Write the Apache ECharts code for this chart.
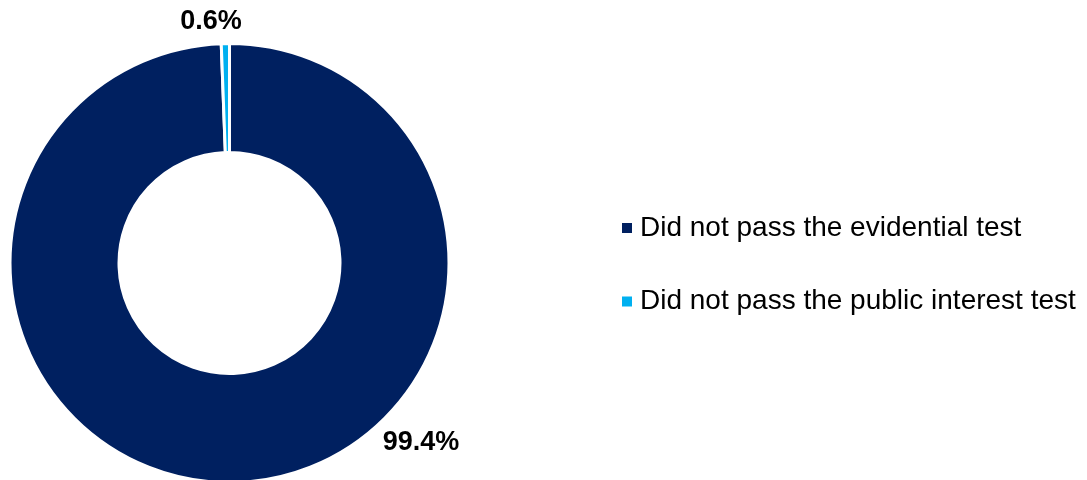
<!DOCTYPE html>
<html>
<head>
<meta charset="utf-8">
<script src="https://cdn.jsdelivr.net/npm/echarts@6/dist/echarts.min.js"></script>
<style>
html,body{margin:0;padding:0;background:#fff;}
#chart{width:1087px;height:480px;}
</style>
</head>
<body>
<div id="chart"></div>
<script>
const categories = ['Did not pass the evidential test', 'Did not pass the public interest test'];
const values = [99.4, 0.6];
const colors = ['#002060', '#00B0F0'];
const labelPositions = [[421, 443], [211, 22]];

const chart = echarts.init(document.getElementById('chart'), null, {renderer: 'canvas'});
const FONT = '"Liberation Sans", Arial, sans-serif';

chart.setOption({
  animation: false,
  backgroundColor: '#ffffff',
  legend: {
    orient: 'vertical',
    left: 622,
    top: 213.5,
    padding: 0,
    itemWidth: 10,
    itemHeight: 10,
    itemGap: 44.5,
    icon: 'rect',
    itemStyle: {borderWidth: 0},
    data: categories,
    textStyle: {
      fontFamily: FONT,
      fontSize: 28,
      lineHeight: 29,
      color: '#000000',
      padding: [0, 0, 0, 3]
    }
  },
  series: [{
    type: 'pie',
    center: [229.5, 263],
    radius: [110.5, 219.5],
    startAngle: 90,
    clockwise: true,
    avoidLabelOverlap: false,
    itemStyle: {borderColor: '#ffffff', borderWidth: 3},
    emphasis: {disabled: true},
    label: {
      show: true,
      position: 'outside',
      formatter: p => p.value.toFixed(1) + '%',
      fontFamily: FONT,
      fontSize: 27,
      fontWeight: 'bold',
      color: '#000000'
    },
    labelLine: {show: false},
    labelLayout: p => ({
      x: labelPositions[p.dataIndex][0],
      y: labelPositions[p.dataIndex][1],
      align: 'center',
      verticalAlign: 'middle'
    }),
    data: categories.map((c, i) => ({name: c, value: values[i], itemStyle: {color: colors[i]}}))
  }]
});
</script>
</body>
</html>
